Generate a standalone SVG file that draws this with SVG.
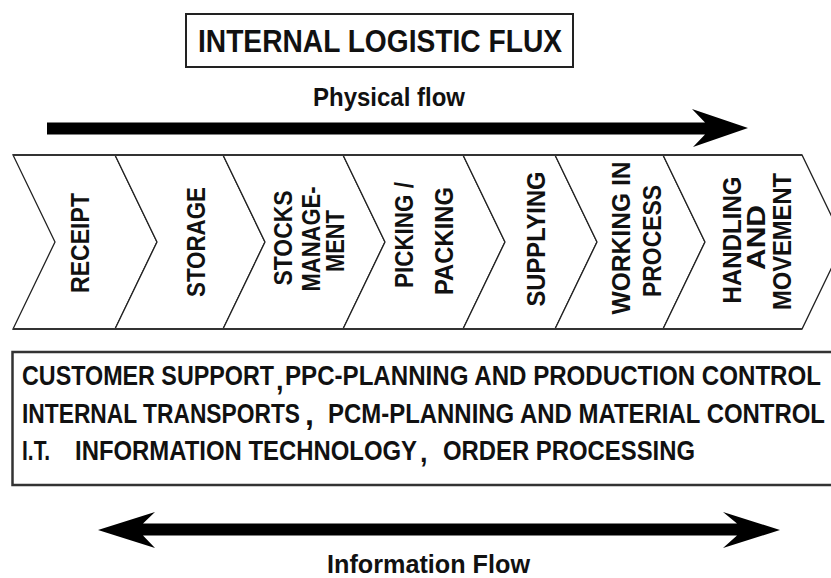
<svg xmlns="http://www.w3.org/2000/svg" width="831" height="578" viewBox="0 0 831 578">
<style>
.t{font-family:"Liberation Sans","Arial",sans-serif;font-weight:bold;fill:#111;}
.v{font-size:26px;text-anchor:middle;}
.b{font-size:27px;}
.chev{fill:#fff;stroke:#222;stroke-width:1.3;}
.edge{stroke:#333;stroke-width:2.2;fill:none;}
</style>
<rect width="831" height="578" fill="#fff"/>
<g id="title">
<rect x="186" y="14" width="387" height="53" fill="#fff" stroke="#222" stroke-width="2"/>
<text class="t" x="198" y="52" font-size="31" textLength="364" lengthAdjust="spacingAndGlyphs">INTERNAL LOGISTIC FLUX</text>
</g>
<g id="physical-label">
<text class="t" x="313" y="106" font-size="26" textLength="152" lengthAdjust="spacingAndGlyphs">Physical flow</text>
</g>
<g id="connectors">
<path d="M47,122.5 L705,122.5 L692,109 L748,128 L693,147 L705,134.5 L47,134.5 Z" fill="#000"/>
<path d="M98,530 L155,512 L143,523.5 L737,523.5 L723,512 L780,530 L723,548 L737,535.5 L143,535.5 L155,548 Z" fill="#000"/>
</g>
<g id="receipt">
<polygon class="chev" points="13,155 115,155 157,242 115,329 13,329 55,242"/>
<text class="t v" transform="translate(89,243) rotate(-90)" textLength="100" lengthAdjust="spacingAndGlyphs">RECEIPT</text>
</g>
<g id="storage">
<polygon class="chev" points="115,155 223,155 265,242 223,329 115,329 157,242"/>
<text class="t v" transform="translate(205,242) rotate(-90)" textLength="110" lengthAdjust="spacingAndGlyphs">STORAGE</text>
</g>
<g id="stocks-management">
<polygon class="chev" points="223,155 343,155 385,242 343,329 223,329 265,242"/>
<text class="t v" transform="translate(292,238) rotate(-90)" textLength="95" lengthAdjust="spacingAndGlyphs">STOCKS</text>
<text class="t v" transform="translate(320,239) rotate(-90)" textLength="105" lengthAdjust="spacingAndGlyphs">MANAGE-</text>
<text class="t v" transform="translate(344,241) rotate(-90)" textLength="62" lengthAdjust="spacingAndGlyphs">MENT</text>
</g>
<g id="picking-packing">
<polygon class="chev" points="343,155 463,155 505,242 463,329 343,329 385,242"/>
<text class="t v" transform="translate(413,235) rotate(-90)" textLength="106" lengthAdjust="spacingAndGlyphs">PICKING /</text>
<text class="t v" transform="translate(453,241) rotate(-90)" textLength="108" lengthAdjust="spacingAndGlyphs">PACKING</text>
</g>
<g id="supplying">
<polygon class="chev" points="463,155 555,155 597,242 555,329 463,329 505,242"/>
<text class="t v" transform="translate(545,239) rotate(-90)" textLength="135" lengthAdjust="spacingAndGlyphs">SUPPLYING</text>
</g>
<g id="working-in-process">
<polygon class="chev" points="555,155 663,155 705,242 663,329 555,329 597,242"/>
<text class="t v" transform="translate(630,238) rotate(-90)" textLength="153" lengthAdjust="spacingAndGlyphs">WORKING IN</text>
<text class="t v" transform="translate(661,241) rotate(-90)" textLength="112" lengthAdjust="spacingAndGlyphs">PROCESS</text>
</g>
<g id="handling-movement">
<polygon class="chev" points="663,155 802,155 844,242 802,329 663,329 705,242"/>
<text class="t v" transform="translate(741,240) rotate(-90)" textLength="127" lengthAdjust="spacingAndGlyphs">HANDLING</text>
<text class="t v" transform="translate(765,237.5) rotate(-90)" textLength="65" lengthAdjust="spacingAndGlyphs">AND</text>
<text class="t v" transform="translate(791,241.5) rotate(-90)" textLength="137" lengthAdjust="spacingAndGlyphs">MOVEMENT</text>
</g>
<g id="band-edges">
<line class="edge" x1="13" y1="155" x2="802" y2="155"/>
<line class="edge" x1="13" y1="329" x2="802" y2="329"/>
</g>
<g id="support-functions">
<rect x="12.5" y="352" width="830" height="133" fill="#fff" stroke="#333" stroke-width="2.5"/>
<text class="t b" y="385"><tspan x="22" textLength="252" lengthAdjust="spacingAndGlyphs">CUSTOMER SUPPORT</tspan><tspan x="276" dy="5">,</tspan><tspan x="285" dy="-5" textLength="536" lengthAdjust="spacingAndGlyphs">PPC-PLANNING AND PRODUCTION CONTROL</tspan></text>
<text class="t b" y="423"><tspan x="22" textLength="278" lengthAdjust="spacingAndGlyphs">INTERNAL TRANSPORTS</tspan><tspan x="305" dy="2" font-size="32">,</tspan><tspan x="328" dy="-2" textLength="497" lengthAdjust="spacingAndGlyphs">PCM-PLANNING AND MATERIAL CONTROL</tspan></text>
<text class="t b" y="460"><tspan x="22" textLength="28" lengthAdjust="spacingAndGlyphs">I.T.</tspan><tspan x="75" textLength="342" lengthAdjust="spacingAndGlyphs">INFORMATION TECHNOLOGY</tspan><tspan x="420" dy="2">,</tspan><tspan x="443" dy="-2" textLength="252" lengthAdjust="spacingAndGlyphs">ORDER PROCESSING</tspan></text>
</g>
<g id="information-label">
<text class="t" x="327" y="573" font-size="25" textLength="203" lengthAdjust="spacingAndGlyphs">Information  Flow</text>
</g>
</svg>
